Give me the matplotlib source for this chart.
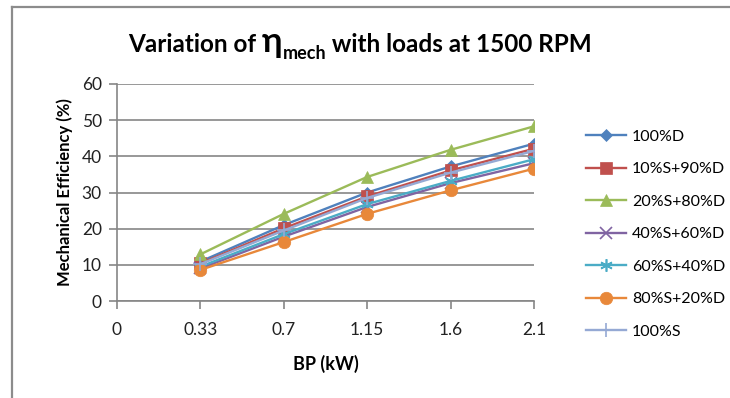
import matplotlib
matplotlib.use("Agg")
import matplotlib.pyplot as plt
from matplotlib.lines import Line2D
import numpy as np

plt.rcParams['font.family'] = ['Lato', 'DejaVu Sans']

categories = ["0", "0.33", "0.7", "1.15", "1.6", "2.1"]
bp = ["0.33", "0.7", "1.15", "1.6", "2.1"]

series_names = ["100%D", "10%S+90%D", "20%S+80%D", "40%S+60%D",
                "60%S+40%D", "80%S+20%D", "100%S"]
d100 = [10.9, 21.0, 30.0, 37.2, 43.5]
s10d90 = [10.4, 20.1, 28.9, 36.1, 42.1]
s20d80 = [12.9, 24.1, 34.3, 41.8, 48.3]
s40d60 = [9.0, 17.8, 26.0, 32.6, 38.1]
s60d40 = [9.5, 18.5, 26.8, 33.2, 39.2]
s80d20 = [8.6, 16.3, 24.1, 30.6, 36.6]
s100 = [10.2, 19.5, 28.5, 35.5, 41.5]
values = [d100, s10d90, s20d80, s40d60, s60d40, s80d20, s100]

colors = ["#4F81BD", "#C0504D", "#9BBB59", "#8064A2", "#4BACC6", "#E8883A", "#95A9D4"]
markers = ["D", "s", "^", "x", (6, 2, 0), "o", "+"]
msizes = [6, 8, 8, 8, 9, 9, 10]

W, H = 730, 398
fig = plt.figure(figsize=(W / 100, H / 100), dpi=100)
ax = fig.add_axes([117 / W, 1 - 301 / H, (534 - 117) / W, (301 - 84) / H])

xpos = [categories.index(b) for b in bp]
for name, vals, c, m, ms in zip(series_names, values, colors, markers, msizes):
    ax.plot(xpos, vals, color=c, lw=1.7, marker=m, markersize=ms,
            markeredgewidth=1.2 if m in ("x", "+") or isinstance(m, tuple) else 0.5,
            markeredgecolor=c, label=name, zorder=3)

ax.set_xlim(0, len(categories) - 1)
ax.set_ylim(0, 60)
ax.set_xticks(range(len(categories)))
ax.set_xticklabels(categories)
ax.set_yticks(np.arange(0, 61, 10))
ax.yaxis.grid(True, color="#868686", lw=1.2)
ax.set_axisbelow(True)
for s in ("top", "right"):
    ax.spines[s].set_visible(False)
for s in ("left", "bottom"):
    ax.spines[s].set_color("#868686")
    ax.spines[s].set_linewidth(1.2)
ax.tick_params(axis="both", colors="#868686", length=6, width=1.2,
               labelsize=12.5, labelcolor="#222222", pad=5)
ax.tick_params(axis="x", pad=9)

ax.set_xlabel("BP (kW)", fontsize=13, fontweight="bold", labelpad=12)
ax.set_ylabel("Mechanical Efficiency (%)", fontsize=12, fontweight="bold", labelpad=6)

leg = ax.legend(loc="upper left", bbox_to_anchor=(572 / W, 1 - 115 / H),
                bbox_transform=fig.transFigure, frameon=False, fontsize=11.5,
                handlelength=2.5, labelspacing=1.15, handletextpad=0.35)

# title composed of pieces (large eta with subscript)
fig.canvas.draw()
renderer = fig.canvas.get_renderer()
pieces = [("Variation of ", 17.5, 0), ("\u03b7", 25, 0), ("mech", 13, -7),
          (" with loads at 1500 RPM", 17.5, 0)]
texts = []
total = 0
for s, fs, dy in pieces:
    t = fig.text(0, 0, s, fontsize=fs, fontweight="bold", ha="left", va="baseline")
    w = t.get_window_extent(renderer).width
    texts.append((t, w, dy))
    total += w
x0 = 360 - total / 2
base = H - 52
for t, w, dy in texts:
    t.set_position((x0 / W, (base + dy) / H))
    x0 += w

# chart border
fig.add_artist(Line2D([12 / W, 12 / W], [0, 1 - 7 / H], transform=fig.transFigure,
                      color="#8c8c8c", lw=1.6))
fig.add_artist(Line2D([12 / W, 1], [1 - 7 / H, 1 - 7 / H], transform=fig.transFigure,
                      color="#8c8c8c", lw=1.6))

fig.savefig("out.png", dpi=100)
